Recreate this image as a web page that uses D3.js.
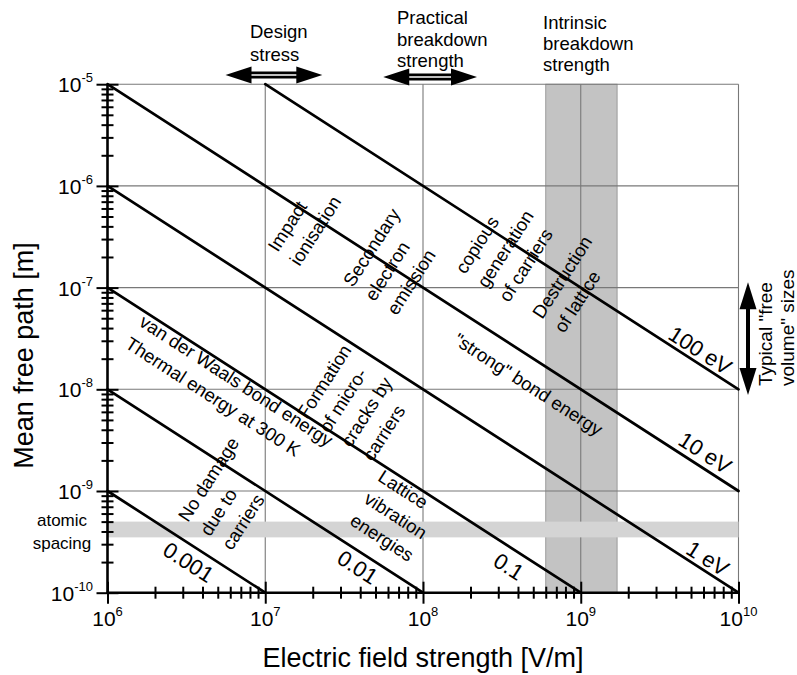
<!DOCTYPE html>
<html>
<head>
<meta charset="utf-8">
<script src="https://cdn.jsdelivr.net/npm/d3@7"></script>
<style>
  html, body { margin: 0; padding: 0; background: #fff; }
  svg { display: block; font-family: "Liberation Sans", Arial, Helvetica, sans-serif; }
</style>
</head>
<body>
<svg id="chart" width="797" height="675"></svg>
<script>
// ---- data -------------------------------------------------------------
// decade ticks of the two log axes
const fieldDecades = [1e6, 1e7, 1e8, 1e9, 1e10];
const fieldExponents = ["6", "7", "8", "9", "10"];
const pathDecades = [1e-10, 1e-9, 1e-8, 1e-7, 1e-6, 1e-5];
const pathExponents = ["-10", "-9", "-8", "-7", "-6", "-5"];

// lines of constant energy (energy = field x mean free path)
const energyNames = ["0.001", "0.01", "0.1", "1 eV", "10 eV", "100 eV"];
const lineFieldStart = [1e6, 1e6, 1e6, 1e6, 1e6, 1e7];
const lineFieldEnd   = [1e7, 1e8, 1e9, 1e10, 1e10, 1e10];
const linePathStart  = [1e-9, 1e-8, 1e-7, 1e-6, 1e-5, 1e-5];
const linePathEnd    = [1e-10, 1e-10, 1e-10, 1e-10, 1e-9, 1e-8];

// shaded ranges
const intrinsicBand = [6e8, 1.7e9];        // intrinsic breakdown strength [V/m]
const atomicBand = [3.5e-10, 5e-10];       // atomic spacing [m]
const designStress = [5.6e6, 2.3e7];       // [V/m]
const practicalStrength = [5.6e7, 2.2e8];  // [V/m]
const freeVolume = [1.13e-7, 8.8e-9];      // typical free volume sizes [m]

// ---- layout ------------------------------------------------------------
const svg = d3.select("#chart");
const x = d3.scaleLog().domain([1e6, 1e10]).range([107.5, 738.5]);
const y = d3.scaleLog().domain([1e-10, 1e-5]).range([592.7, 84.2]);
const [x0, x1] = x.range();
const [y0, y1] = y.range();

// slope of the energy lines in screen space
const lineAngle = Math.atan2(y(1e-6) - y(1e-5), x(1e7) - x(1e6)) * 180 / Math.PI;
const perpAngle = lineAngle - 90;
const rad = lineAngle * Math.PI / 180;
const normal = [Math.sin(rad), -Math.cos(rad)]; // points to the upper right of a line

svg.append("rect").attr("width", 797).attr("height", 675).attr("fill", "#fff");

// intrinsic breakdown band
svg.append("rect")
  .attr("x", x(intrinsicBand[0])).attr("y", y1)
  .attr("width", x(intrinsicBand[1]) - x(intrinsicBand[0]))
  .attr("height", y0 - y1)
  .attr("fill", "#c3c3c3").attr("stroke", "#8c8c8c").attr("stroke-width", 0.8);

// grid
const grid = svg.append("g").attr("stroke", "#787878").attr("stroke-width", 1.1);
grid.selectAll("line.h").data(pathDecades.slice(1)).join("line")
  .attr("x1", x0).attr("x2", x1).attr("y1", d => y(d)).attr("y2", d => y(d));
grid.selectAll("line.v").data(fieldDecades.slice(1)).join("line")
  .attr("x1", d => x(d)).attr("x2", d => x(d)).attr("y1", y0).attr("y2", y1);

// atomic spacing band
svg.append("rect")
  .attr("x", x0).attr("y", y(atomicBand[1]))
  .attr("width", x1 - x0)
  .attr("height", y(atomicBand[0]) - y(atomicBand[1]))
  .attr("fill", "#d4d4d4");

// energy lines
const lines = energyNames.map((name, i) => ({
  name,
  p1: [lineFieldStart[i], linePathStart[i]],
  p2: [lineFieldEnd[i], linePathEnd[i]]
}));
svg.append("g").selectAll("line").data(lines).join("line")
  .attr("x1", d => x(d.p1[0])).attr("y1", d => y(d.p1[1]))
  .attr("x2", d => x(d.p2[0])).attr("y2", d => y(d.p2[1]))
  .attr("stroke", "#000").attr("stroke-width", 2.7).attr("stroke-linecap", "round");

// energy line labels: field value along the line and offset from it
const energyLabelAt = [3.7e6, 4.3e7, 4.0e8, 5.8e9, 5.5e9, 5.2e9];
const energyLabelOffset = [-16, -14, -17, 12, 14, 12];
svg.append("g").selectAll("text").data(lines).join("text")
  .attr("transform", (d, i) => {
    const e = energyLabelAt[i];
    // point on the line at field e
    const t = Math.log(e / d.p1[0]) / Math.log(d.p2[0] / d.p1[0]);
    const lam = d.p1[1] * Math.pow(d.p2[1] / d.p1[1], t);
    const px = x(e) + normal[0] * energyLabelOffset[i];
    const py = y(lam) + normal[1] * energyLabelOffset[i];
    return `translate(${px},${py}) rotate(${lineAngle})`;
  })
  .attr("text-anchor", "middle").attr("dy", "0.35em")
  .attr("font-size", 22).attr("fill", "#000")
  .text(d => d.name);

// annotations inside the plot
const notes = [
  { lines: ["Impact", "ionisation"], at: [1.2e7, 2.19e-7], rot: perpAngle },
  { lines: ["Secondary", "electron", "emission"], at: [3.6e7, 9.9e-8], rot: perpAngle },
  { lines: ["copious", "generation", "of carriers"], at: [1.85e8, 1.33e-7], rot: perpAngle },
  { lines: ["Destruction", "of lattice"], at: [5.7e8, 4.8e-8], rot: perpAngle },
  { lines: ["Formation", "of micro-", "cracks by", "carriers"], at: [1.84e7, 4.99e-9], rot: perpAngle },
  { lines: ["No damage", "due to", "carriers"], at: [3.24e6, 4.84e-10], rot: perpAngle },
  { lines: ["Lattice", "vibration", "energies"], at: [5.1e7, 1.28e-9], rot: lineAngle },
  { lines: ["van der Waals bond energy", "Thermal energy at 300 K"], at: [1.56e6, 4.28e-8], rot: lineAngle },
  { lines: ['"strong" bond energy'], at: [1.53e8, 2.85e-8], rot: lineAngle }
];
const noteG = svg.append("g").attr("font-size", 18.5).attr("fill", "#000");
notes.forEach(n => {
  const t = noteG.append("text")
    .attr("transform", `translate(${x(n.at[0])},${y(n.at[1])}) rotate(${n.rot})`);
  n.lines.forEach((s, k) => {
    t.append("tspan").attr("x", 0).attr("y", k * 26).text(s);
  });
});

// axes
const minor = [];
for (let k = 0; k < fieldDecades.length - 1; k++)
  for (let m = 2; m <= 9; m++) minor.push(fieldDecades[k] * m);
const minorY = [];
for (let k = 0; k < pathDecades.length - 1; k++)
  for (let m = 2; m <= 9; m++) minorY.push(pathDecades[k] * m);

const xAxis = svg.append("g").attr("transform", `translate(0,${y0})`)
  .call(d3.axisBottom(x).tickValues(fieldDecades.concat(minor)).tickFormat(() => "").tickSizeOuter(0));
xAxis.select(".domain").attr("stroke", "#000").attr("stroke-width", 2.6)
  .attr("d", `M${x0 - 1},0H${x1 + 1}`);
xAxis.selectAll(".tick line").attr("stroke", "#000").attr("stroke-width", 2)
  .attr("y1", d => fieldDecades.includes(d) ? -11 : -6)
  .attr("y2", d => fieldDecades.includes(d) ? 11 : 6);

const yAxis = svg.append("g").attr("transform", `translate(${x0},0)`)
  .call(d3.axisLeft(y).tickValues(pathDecades.concat(minorY)).tickFormat(() => "").tickSizeOuter(0));
yAxis.select(".domain").attr("stroke", "#000").attr("stroke-width", 2.6)
  .attr("d", `M0,${y0 + 1}V${y1}`);
yAxis.selectAll(".tick line").attr("stroke", "#000").attr("stroke-width", 2)
  .attr("x1", d => pathDecades.includes(d) ? -11 : -6)
  .attr("x2", d => pathDecades.includes(d) ? 11 : 6);

// power-of-ten tick labels
fieldDecades.forEach((d, i) => {
  const t = svg.append("text").attr("x", x(d)).attr("y", 626)
    .attr("text-anchor", "middle").attr("font-size", 21).attr("fill", "#000");
  t.append("tspan").text("10");
  t.append("tspan").attr("dy", -10).attr("font-size", 13).text(fieldExponents[i]);
});
pathDecades.forEach((d, i) => {
  const t = svg.append("text").attr("x", 93).attr("y", y(d) + 8)
    .attr("text-anchor", "end").attr("font-size", 21).attr("fill", "#000");
  t.append("tspan").text("10");
  t.append("tspan").attr("dy", -10).attr("font-size", 13).text(pathExponents[i]);
});

// axis titles
svg.append("text").attr("x", (x0 + x1) / 2).attr("y", 667)
  .attr("text-anchor", "middle").attr("font-size", 27).attr("fill", "#000")
  .text("Electric field strength [V/m]");
svg.append("text").attr("transform", `translate(33,${(y0 + y1) / 2 + 17}) rotate(-90)`)
  .attr("text-anchor", "middle").attr("font-size", 27).attr("fill", "#000")
  .text("Mean free path [m]");

// "atomic spacing" label left of the axis
const atomic = svg.append("text").attr("font-size", 17).attr("fill", "#000")
  .attr("text-anchor", "middle");
atomic.append("tspan").attr("x", 62).attr("y", y(atomicBand[1]) + 4).text("atomic");
atomic.append("tspan").attr("x", 62).attr("y", y(atomicBand[1]) + 27).text("spacing");

// double headed arrows
function hArrow(a, b, yy) {
  const xa = x(a), xb = x(b), L = 26, H = 8.5;
  const g = svg.append("g");
  g.append("line").attr("x1", xa + L - 2).attr("x2", xb - L + 2).attr("y1", yy).attr("y2", yy)
    .attr("stroke", "#000").attr("stroke-width", 7);
  g.append("line").attr("x1", xa + L - 2).attr("x2", xb - L + 2).attr("y1", yy).attr("y2", yy)
    .attr("stroke", "#fff").attr("stroke-width", 1.6);
  g.append("path").attr("d", `M${xa},${yy}L${xa + L},${yy - H}L${xa + L},${yy + H}Z`).attr("fill", "#000");
  g.append("path").attr("d", `M${xb},${yy}L${xb - L},${yy - H}L${xb - L},${yy + H}Z`).attr("fill", "#000");
}
hArrow(designStress[0], designStress[1], 75);
hArrow(practicalStrength[0], practicalStrength[1], 77);

(function vArrow(a, b, xx) {
  const ya = y(a), yb = y(b), L = 27, H = 8.5;
  const g = svg.append("g");
  g.append("line").attr("x1", xx).attr("x2", xx).attr("y1", ya + L - 2).attr("y2", yb - L + 2)
    .attr("stroke", "#000").attr("stroke-width", 4);
  g.append("path").attr("d", `M${xx},${ya}L${xx - H},${ya + L}L${xx + H},${ya + L}Z`).attr("fill", "#000");
  g.append("path").attr("d", `M${xx},${yb}L${xx - H},${yb - L}L${xx + H},${yb - L}Z`).attr("fill", "#000");
})(freeVolume[0], freeVolume[1], 748);

// labels above the plot
function block(lines, xx, baselines, size) {
  const t = svg.append("text").attr("font-size", size).attr("fill", "#000");
  lines.forEach((s, k) => t.append("tspan").attr("x", xx).attr("y", baselines[k]).text(s));
}
block(["Design", "stress"], 250, [38, 61], 18.5);
block(["Practical", "breakdown", "strength"], 397, [24, 46, 67], 18.5);
block(["Intrinsic", "breakdown", "strength"], 543, [29, 50, 71], 18.5);

// free volume label on the right
const fv = svg.append("text").attr("font-size", 19).attr("fill", "#000")
  .attr("transform", "translate(0,386) rotate(-90)");
fv.append("tspan").attr("x", 0).attr("y", 772).text('Typical "free');
fv.append("tspan").attr("x", 0).attr("y", 794).text('volume" sizes');
</script>
</body>
</html>
